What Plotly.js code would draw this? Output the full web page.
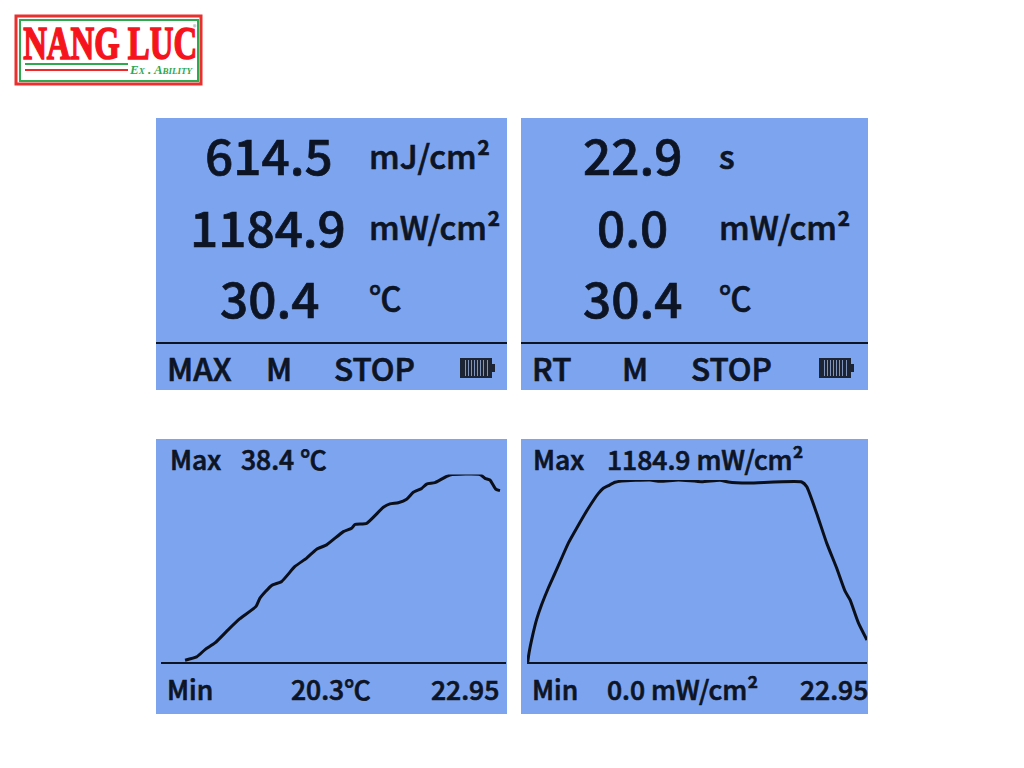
<!DOCTYPE html>
<html>
<head>
<meta charset="utf-8">
<script src="https://cdn.plot.ly/plotly-3.0.1.min.js"></script>
<style>html,body{margin:0;padding:0;background:#fff}#chart{width:1024px;height:768px}</style>
</head>
<body>
<div id="chart"></div>
<script>
// Temperature curve: time (s) and °C
var tempTime = [1.60,2.37,2.93,3.59,4.48,5.25,6.32,6.58,7.36,8.03,8.91,9.69,10.35,11.02,12.13,12.68,12.90,13.68,14.79,15.23,15.78,16.34,16.78,17.34,17.67,18.22,19.22,21.22,21.55,21.88,22.28,22.55];
var tempValues = [20.47,20.79,21.50,22.14,23.43,24.48,25.67,26.47,27.69,28.08,29.52,30.33,31.19,31.61,32.89,33.21,33.57,33.69,35.23,35.56,35.68,36.01,36.68,37.06,37.48,37.61,38.35,38.4,38.03,37.87,36.97,36.84];
// Irradiance curve: time (s) and mW/cm²
var irrTime = [0.05,0.14,0.32,0.65,0.99,1.44,1.89,2.34,2.79,3.35,4.14,4.82,5.15,5.49,5.94,6.39,8.30,8.98,10.22,11.79,13.03,13.59,14.94,18.54,18.88,19.55,20.23,20.90,21.47,21.80,22.37,22.95];
var irrValues = [0,61,147,277,374,482,579,677,774,871,1001,1098,1131,1148,1170,1178,1185,1176,1185,1174,1183,1172,1165,1172,1142,969,774,612,461,406,255,143];

var bigNumbers = ["614.5","1184.9","30.4","22.9","0.0","30.4"];
var unitLabels = ["mJ/cm²","mW/cm²","℃","s","mW/cm²","℃"];
var statusLabels = ["MAX","M","STOP","RT","M","STOP"];
var chartLabels = ["Max","38.4 ℃","Min","20.3℃","22.95","Max","1184.9 mW/cm²","Min","0.0 mW/cm²","22.95"];

var W = 1024, H = 768, INK = "#0d1424", PANEL = "#7da4ee";
function px(x){return x/W;}
function py(y){return 1-y/H;}
var FONT = "Noto Sans CJK SC";
var shapes = [], ann = [];
function rect(x0,y0,x1,y1,fill,line,lw){
  shapes.push({type:"rect",xref:"paper",yref:"paper",x0:px(x0),x1:px(x1),y0:py(y0),y1:py(y1),
    fillcolor:fill,line:{color:line||fill,width:lw||0},layer:"below"});
}
function hline(x0,x1,y,color,w){
  shapes.push({type:"line",xref:"paper",yref:"paper",x0:px(x0),x1:px(x1),y0:py(y),y1:py(y),line:{color:color,width:w}});
}
function text(t,x,y,size,anchor,opts){
  opts = opts||{};
  ann.push({text:t,xref:"paper",yref:"paper",x:px(x),y:py(y),xanchor:anchor||"left",yanchor:"middle",
    showarrow:false,borderpad:0,borderwidth:0,
    font:{family:opts.family||FONT,size:size,color:opts.color||INK,weight:opts.weight||500,style:opts.style||"normal",variant:opts.variant||"normal"}});
}
function battery(x,y){
  rect(x,y,x+32,y+20,"#1d2535");
  rect(x+32,y+6,x+35,y+14,"#1d2535");
  [5,8,11,14,17,20,23,27].forEach(function(d){rect(x+d,y+2,x+d+1,y+18,"#7f93bb");});
}

// panels
rect(156,118,507,390,PANEL);
rect(521,118,868,390,PANEL);
rect(156,439,507,714,PANEL);
rect(521,439,868,714,PANEL);
hline(156,507,343,INK,2);
hline(521,868,343,INK,2);

// top panels
var rowY = [153,225,296];
var numX = [269,268,269,632,632,632];
var unitX = [369,369,369,719,719,719];
bigNumbers.forEach(function(v,i){text(v,numX[i],rowY[i%3],49.5,"center");});
var unitY = [154,226,296];
unitLabels.forEach(function(v,i){text(v,unitX[i],unitY[i%3],32.5,"left");});
var statusX = [167,266,334,532,622,691];
statusLabels.forEach(function(v,i){text(v,statusX[i],367,31.5,"left");});
battery(460,358);
battery(819,358);

// bottom panel labels
var labelX = [170,241,167,291,499,533,607,532,607,868];
var labelY = [458,458,688,688,688,458,458,688,688,688];
var labelAnchor = ["left","left","left","left","right","left","left","left","left","right"];
chartLabels.forEach(function(v,i){text(v,labelX[i],labelY[i],26.5,labelAnchor[i]);});

// logo
rect(16,16,201,84,"#ffffff","#e8312f",3);
rect(20,20,198,81,"#ffffff","#2fa84f",2);
var LOGO_NAME = "NANG LUC";
text(LOGO_NAME,110,43,40,"center",{family:"Liberation Serif",color:"#f5141c",weight:700});
hline(25,128,64,"#2fa84f",2);
hline(25,128,70,"#f0282a",2);
text("Ex . Ability",129,69,13,"left",{family:"Liberation Serif",color:"#2fa84f",style:"italic",weight:700,variant:"small-caps"});
text("®",195,27,7,"center",{color:"#888888",weight:400});

var lineStyle = {color:"#0b0f1a",width:3,shape:"spline",smoothing:0.5};
var traces = [
  {x:tempTime,y:tempValues,type:"scatter",mode:"lines",line:lineStyle,xaxis:"x",yaxis:"y",cliponaxis:false,hoverinfo:"skip"},
  {x:irrTime,y:irrValues,type:"scatter",mode:"lines",line:lineStyle,xaxis:"x2",yaxis:"y2",cliponaxis:false,hoverinfo:"skip"}
];
function xAxis(a,b,anchor){return {domain:[px(a),px(b)],range:[0,22.95],anchor:anchor,showgrid:false,zeroline:false,showticklabels:false,ticks:"",showline:true,linecolor:INK,linewidth:2};}
function yAxis(top,range,anchor){return {domain:[py(662),py(top)],range:range,anchor:anchor,showgrid:false,zeroline:false,showticklabels:false,ticks:"",showline:false};}

var layout = {
  width:W,height:H,margin:{l:0,r:0,t:0,b:0},paper_bgcolor:"#ffffff",plot_bgcolor:"rgba(0,0,0,0)",showlegend:false,
  xaxis:xAxis(161,506,"y"),yaxis:yAxis(474.5,[20.3,38.4],"x"),
  xaxis2:xAxis(527,867,"y2"),yaxis2:yAxis(480,[0,1184.9],"x2"),
  shapes:shapes,annotations:ann
};
Plotly.newPlot("chart",traces,layout,{displayModeBar:false,staticPlot:true}).then(function(gd){
  gd.querySelectorAll(".annotation-text").forEach(function(t){
    if(t.textContent===LOGO_NAME){
      // the logo lettering is condensed and tall in the reference
      var b=t.getBBox(),cx=b.x+b.width/2,cy=b.y+b.height/2;
      t.setAttribute("transform","translate("+cx+","+cy+") scale(0.82,1.18) translate("+(-cx)+","+(-cy)+")");
      t.style.stroke="#f5141c";t.style.strokeWidth="1.4px";
    } else if(t.style.fontFamily.indexOf("CJK")>=0 && t.textContent!=="®"){
      // the reference lettering is a medium weight
      t.style.stroke=INK;t.style.strokeWidth="0.7px";
    }
  });
});
</script>
</body>
</html>
